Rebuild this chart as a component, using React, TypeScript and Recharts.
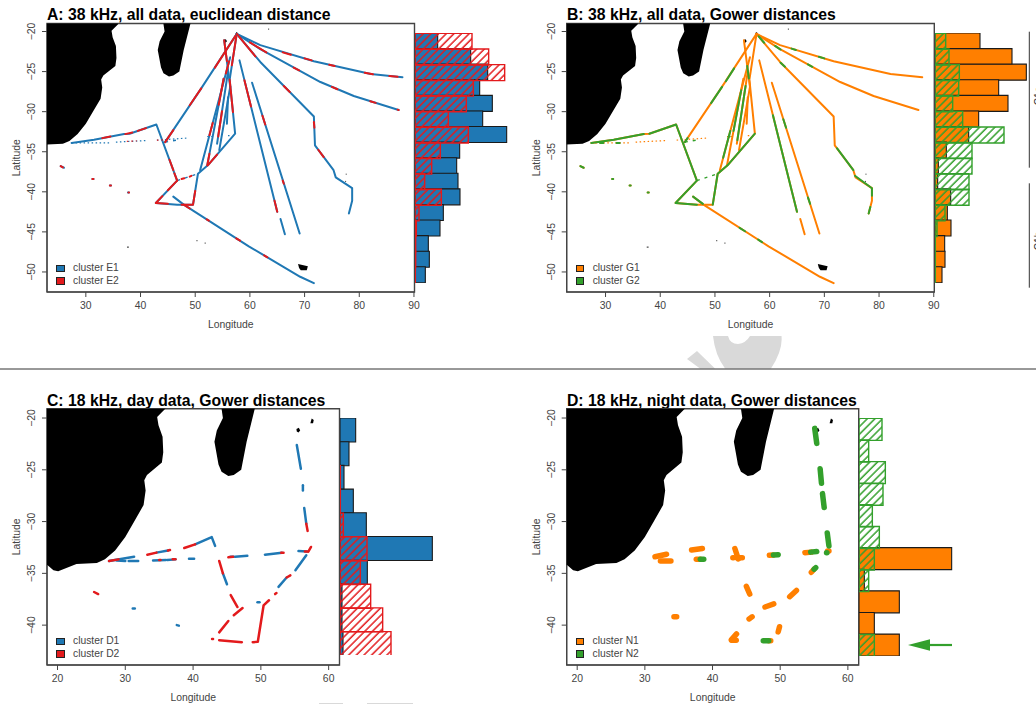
import React from 'react';
import {
  Bar,
  BarChart,
  ReferenceArea,
  Scatter,
  ScatterChart,
  XAxis,
  YAxis,
} from 'recharts';

type Pt = number[];
type Seg = Pt[];

const BLUE = '#1F78B4';
const RED = '#E31A1C';
const ORANGE = '#FF7F00';
const GREEN = '#33A02C';
const AXIS = '#444';
const FONT = '"Liberation Sans", Arial, sans-serif';

// --- land
const africa: Seg = [
  [10, -18], [36.2, -18], [35.9, -19.1], [34.7, -19.9], [34.9, -20.7], [35.5, -21.8], [35.6, -23.3],
  [35.4, -24.3], [33.2, -25.5], [32.8, -26], [33, -27], [32.7, -28.4], [31.4, -29.9], [30, -31.5],
  [28.5, -32.8], [27, -33.65], [25.8, -34], [22.8, -34.1], [20.1, -34.8], [19.4, -34.7], [18.5, -34.2], [10, -34.2],
];
const madagascar: Seg = [
  [44.2, -18], [44.2, -19.1], [44.4, -20], [43.5, -21.2], [43.15, -22.3], [43.75, -24.5], [44.2, -25.2],
  [45.2, -25.6], [46, -25.5], [47.1, -25], [47.9, -22.3], [49.1, -19.1], [49.4, -18],
];
const mauritius: Seg = [[57.3, -20.5], [57.5, -20.05], [57.8, -20.2], [57.7, -20.5]];
const reunion: Seg = [[55.25, -21.05], [55.6, -20.95], [55.8, -21.2], [55.55, -21.4], [55.3, -21.3]];
const kerguelen: Seg = [[68.8, -49.0], [70.6, -49.3], [70.4, -49.8], [69.3, -49.8], [69, -49.5]];
const specks: Seg[] = [
  [[37.6, -46.9], [37.8, -46.9]], [[50.3, -46.1], [50.35, -46.1]], [[51.8, -46.4], [51.85, -46.4]],
  [[63.4, -19.7], [63.45, -19.7]], [[77.6, -37.8], [77.62, -37.8]], [[77.5, -38.7], [77.52, -38.7]],
];

// --- 38 kHz routes
const routes38: Seg[] = [
  [[27.4, -33.9], [31.5, -33.5], [37, -32.8], [38, -32.75], [42.9, -31.6], [46.7, -38.6], [42.8, -41.4], [46.7, -41.6],
    [49.6, -41.6], [50.5, -37.75], [52.3, -36.7], [57.3, -32.75], [56.3, -26], [57.6, -20.3]],
  [[44.5, -33.8], [51.1, -27.1], [57.6, -20.3]],
  [[46, -40.6], [47.9, -41.6], [59.8, -46.8], [69.2, -50.6], [71.7, -51.4]],
  [[57.6, -20.3], [61.9, -21.7], [71.7, -23.7], [82.1, -25.3], [87.9, -25.7]],
  [[57.6, -20.3], [61.9, -22.2], [72.9, -26.3], [79, -28.05], [87.2, -29.8]],
  [[57.6, -20.3], [61.9, -23.8], [71.7, -30.6], [71.9, -34.2], [75.3, -37.3], [75.7, -38.2], [78.7, -39.55], [78.7, -41.1], [78.1, -42.7]],
  [[58.1, -23.6], [65, -42.5]],
  [[65.6, -43.4], [66.4, -45.3]],
  [[60.4, -26.4], [69.1, -45.2]],
  [[55.2, -25.9], [52.2, -36.7]],
  [[56.4, -23.2], [50.9, -37.3]],
  [[56, -25], [54, -34]],
  [[56.4, -26.9], [54.4, -34.8]],
  [[56, -28.2], [55.8, -31.5]],
  [[55.3, -21.1], [56.4, -26.9]],
  [[25.4, -36.8], [26, -37]], [[31.2, -38.4], [31.4, -38.4]], [[34.4, -39.2], [34.6, -39.2]], [[37.7, -40.1], [37.9, -40.1]],
];
const dashes38: Seg[] = [
  [[46.7, -38.6], [50.5, -37.75]],
  [[44.5, -33.8], [47, -33.5]],
];
const dotted38: Seg[] = [
  [[27.4, -33.9], [34.5, -33.9]],
  [[35.5, -33.8], [41.2, -33.6]],
  [[43, -33.55], [48.5, -33.3]],
  [[52.2, -33.1], [53.5, -33.1]],
  [[56, -33], [56.3, -33]],
];

const redOverA: Seg[] = [
  [[57.4, -20.5], [53.6, -24.5]], [[51.1, -27.1], [49, -29.2]], [[46, -32.3], [44.5, -33.8]],
  [[33, -33.3], [34.5, -33.1]], [[37.2, -32.8], [38.5, -32.6]], [[39.5, -32.4], [41, -32.05]],
  [[45.3, -36], [46, -37.3]], [[46.2, -37.7], [46.7, -38.6]], [[46.7, -38.6], [45, -39.8]], [[44, -40.54], [42.8, -41.4], [45, -41.5]],
  [[47.5, -41.6], [49.6, -41.6], [50, -39.9]], [[47.5, -38.4], [48, -38.3]], [[49, -38.1], [49.3, -38]],
  [[66, -22.6], [67.5, -22.9]], [[70, -23.35], [71.3, -23.6]], [[74.5, -24.15], [75.5, -24.3]], [[81, -25.15], [82.5, -25.33]], [[85.5, -25.55], [87, -25.65]],
  [[60, -21.35], [63, -22.6]], [[68, -24.5], [69, -24.85]], [[75, -26.9], [76, -27.2]], [[82, -28.7], [83, -28.9]], [[87, -29.75], [87.2, -29.8]],
  [[57.6, -20.3], [61, -23.1]], [[66.2, -26.8], [67.3, -27.55]], [[72.5, -34.75], [73.5, -35.66]], [[71.7, -31.3], [71.8, -32]],
  [[59, -26.07], [60.2, -29.35]], [[64.5, -41.1], [65, -42.5]], [[62.3, -30.5], [62.8, -31.6]], [[66, -38.6], [66.2, -39]],
  [[56.2, -23.7], [55.6, -25.25]], [[55.2, -25.9], [54.3, -29.14]], [[53.2, -31.4], [52.6, -32.95]], [[52.6, -35.26], [52.2, -36.7]],
  [[54.9, -29.95], [54.2, -33.1]], [[56.3, -26], [56.9, -30.05]], [[57.5, -20.7], [56.7, -24.2]], [[55.3, -21.1], [55.8, -23.7]],
  [[52.3, -36.7], [54, -35.36]], [[52.1, -43.44], [52.5, -43.6]], [[57.5, -45.8], [58.2, -46.1]], [[62.6, -47.93], [63.2, -48.17]], [[47.9, -41.6], [49, -42.08]],
  [[25.4, -36.8], [25.8, -36.95]], [[31.2, -38.4], [31.4, -38.4]], [[34.4, -39.2], [34.6, -39.2]], [[37.8, -40.1], [37.9, -40.1]],
];
const redDotsA: Seg[] = [[[37.5, -33.7], [39.3, -33.65]], [[43, -33.55], [45.4, -33.5]]];

const greenOverB: Seg[] = [
  [[27.4, -33.9], [31.5, -33.5], [37, -32.8]], [[38, -32.75], [42.9, -31.6], [46.7, -38.6], [42.8, -41.4], [46.7, -41.6]],
  [[49.6, -41.6], [50.5, -37.75], [52.3, -36.7], [57.3, -32.75]], [[46, -40.6], [47.8, -41.5]],
  [[44.5, -33.8], [45, -33.3]], [[49.3, -28.93], [51.3, -26.9]], [[52, -26.2], [53.5, -24.6]],
  [[54.8, -27.34], [53.4, -32.4]], [[55.6, -26.8], [54.1, -33.55]], [[52.8, -32.4], [51.5, -35.76]], [[55.9, -24.3], [56.2, -25.85]],
  [[60.6, -30.45], [64, -39.76], [65, -42.5]], [[72.3, -34.56], [75.3, -37.3]], [[75.6, -38], [78.7, -39.55], [78.7, -40.5]], [[78.4, -41.9], [78.1, -42.7]],
  [[62.5, -30.94], [63, -32]], [[67, -40.7], [67.4, -41.5]], [[58, -20.6], [59, -21.4]], [[64, -22.13], [64.8, -22.3]], [[69, -23.15], [70, -23.35]],
  [[61, -21.8], [62, -22.25]], [[67, -24.1], [67.8, -24.4]], [[62, -23.9], [62.8, -24.4]], [[54.5, -44.49], [55.5, -44.92]], [[57.9, -45.97], [58.6, -46.28]],
  [[25.4, -36.8], [26, -37]], [[31.2, -38.4], [31.4, -38.4]], [[34.4, -39.2], [34.6, -39.2]], [[37.7, -40.1], [37.9, -40.1]],
  [[52.5, -33.1], [52.7, -33.1]], [[29, -33.9], [29.6, -33.9]], [[32, -33.9], [32.6, -33.9]],
];

// --- 18 kHz day
const blueDay: Seg[] = [
  [[55.3, -22.6], [55.9, -24.9]], [[56.2, -26.5], [56.2, -27]], [[56.4, -28.7], [56.7, -30.2]],
  [[27.6, -33.8], [31.3, -33.4]], [[34.6, -33], [36.3, -32.8]], [[40.3, -32.2], [42.75, -31.5], [43.25, -32.35]],
  [[34.1, -33.75], [36, -33.7]], [[36.2, -33.7], [37.4, -33.65]], [[39.4, -33.6], [40.15, -33.6]],
  [[46.2, -33.4], [48, -33.3]], [[50.6, -33.2], [53.1, -33]], [[55.55, -32.85], [56.8, -32.9]],
  [[44.4, -35], [45, -36.05]], [[52.6, -36.3], [53.8, -35.4]], [[55.1, -34.7], [56.7, -33.25]],
  [[49.5, -37.8], [49.8, -37.8]], [[31.1, -38.4], [31.4, -38.4]], [[37.6, -40], [37.9, -40.05]],
  [[30.5, -33.8], [31.9, -33.8]], [[28.7, -33.75], [30, -33.8]], [[45.5, -33.4], [46, -33.4]],
];
const redDay: Seg[] = [
  [[56.7, -30.2], [56.9, -30.9]], [[57, -32.9], [57.4, -32.45]], [[27.6, -33.8], [29, -33.65]],
  [[33.25, -33.2], [34.6, -33]], [[36.3, -32.8], [36.6, -32.75]], [[38.7, -32.55], [40.3, -32.2]],
  [[45.2, -33.45], [45.9, -33.4]], [[43.85, -33.8], [44.4, -35]], [[45.55, -37.1], [46.55, -38.25]], [[47.3, -38.35], [46, -39.05]],
  [[45.2, -39.6], [43.85, -40.7]], [[42.8, -41.35], [42.95, -41.35]], [[43.85, -41.45], [47.2, -41.65]], [[48.8, -41.65], [49.55, -41.6], [50.4, -38.1], [51.2, -37.6]],
  [[52.1, -37], [52.3, -36.9]], [[53.8, -35.4], [54.35, -35.2]], [[25.4, -36.8], [26, -37]], [[53, -33], [53.35, -33]], [[35, -33.7], [35.2, -33.7]],
  [[37, -33.65], [37.4, -33.65]], [[56.5, -32.9], [56.8, -32.9]],
];

// --- 18 kHz night
const orangeNight: Seg[] = [
  [[53.65, -33], [54.6, -32.95]], [[57, -32.85], [57.2, -32.85]], [[48.4, -33.25], [49, -33.22]], [[37.6, -33.65], [38.2, -33.65]],
  [[36.9, -32.75], [38.5, -32.6]], [[31.5, -33.4], [33.2, -33.15]], [[32.3, -33.8], [33.85, -33.8]],
  [[43.3, -32.6], [43.8, -33.6]], [[43, -33.5], [43.1, -33.5]], [[43.55, -33.5], [44.4, -33.5]], [[54.6, -34.9], [55, -34.6]],
  [[45, -36.25], [45.5, -37]], [[51.4, -37.25], [52.4, -36.65]], [[47.75, -38.25], [49.05, -37.95]], [[34.3, -39.2], [34.7, -39.2]],
  [[45.4, -39.4], [45.85, -39.2]], [[49.7, -40.65], [49.9, -40.15]], [[42.8, -41.4], [43.55, -40.85]], [[42.8, -41.45], [43.5, -41.45]], [[48.3, -41.5], [48.6, -41.5]],
];
const greenNight: Seg[] = [
  [[55.1, -21], [55.4, -22.45]], [[55.9, -24.9], [56.1, -26.3]], [[56.25, -27.3], [56.5, -28.65]], [[56.95, -31.1], [57.2, -32.35]],
  [[56.85, -33], [56.9, -33]], [[54.5, -32.95], [55.4, -32.9]], [[49, -33.22], [49.7, -33.2]], [[38.2, -33.65], [38.7, -33.65]],
  [[55, -34.6], [55.25, -34.45]], [[47.5, -41.5], [48.3, -41.5]],
];

// --- side histograms, bar lengths as read
const binsAB = ['-20', '-22', '-24', '-26', '-28', '-30', '-32', '-34', '-36', '-38', '-40', '-42', '-44', '-46', '-48', '-50'];
const histE1 = [68, 167, 218, 194, 232, 203, 275, 134, 125, 129, 135, 85, 75, 40, 43, 31];
const histE2 = [171, 221, 269, 175, 154, 100, 160, 76, 50, 29, 79, 12, 4, 2, 2, 1];
const histG1Solid = [135, 231, 274, 191, 219, 131, 101, 34, 10, 8, 47, 37, 48, 29, 30, 21];
const histG2 = [32, 42, 73, 71, 53, 83, 207, 111, 111, 102, 102, 30, 6, 1, 1, 1];
const binsC = ['-20', '-22', '-24', '-26', '-28', '-30', '-32', '-34', '-36', '-38'];
const histD1 = [47, 27, 12, 40, 79, 277, 82, 6, 6, 9];
const histD2 = [0, 0, 1, 1, 10, 81, 61, 92, 128, 153];
const binsD = ['-20', '-22', '-24', '-26', '-28', '-30', '-32', '-34', '-36', '-38', '-40'];
const histN1 = [0, 0, 0, 0, 0, 0, 278, 16, 121, 46, 121];
const histN2 = [69, 29, 79, 72, 40, 61, 46, 29, 0, 0, 46];

const ticks38X = [30, 40, 50, 60, 70, 80, 90];
const ticks38Y = [-50, -45, -40, -35, -30, -25, -20];
const ticks18X = [20, 30, 40, 50, 60];
const ticks18Y = [-40, -35, -30, -25, -20];
const domain38X = [22.9, 90.1];
const domain38Y = [-52.5, -19];
const domain18X = [18.45, 61.6];
const domain18Y = [-43.85, -19.1];

const toPoints = (seg: Seg) => seg.map(([x, y]) => ({ x, y }));
const noDot = () => <g />;
const fmtMinus = (v: number) => String(v).replace('-', '\u2212');

const renderYTick = (props: any) => {
  const { x, y, payload } = props;
  return (
    <text
      x={x - 5}
      y={y}
      transform={`rotate(-90 ${x - 5} ${y})`}
      textAnchor="middle"
      fontSize={10.4}
      fontFamily={FONT}
      fill={AXIS}
    >
      {fmtMinus(payload.value)}
    </text>
  );
};

const polygon = (props: any) => {
  const d = props.points.map((p: any, i: number) => `${i ? 'L' : 'M'}${p.x},${p.y}`).join(' ') + 'Z';
  return <path d={d} fill="#000" stroke="none" />;
};

const drawLand = () =>
  [africa, madagascar, mauritius, reunion, kerguelen].map((seg, i) => (
    <Scatter key={`land${i}`} data={toPoints(seg)} line={polygon} shape={noDot} isAnimationActive={false} />
  ));

const drawSegs = (segs: Seg[], name: string, stroke: string, strokeWidth: number, dash?: string) =>
  segs.map((seg, i) => (
    <Scatter
      key={`${name}${i}`}
      data={toPoints(seg)}
      line={{ stroke, strokeWidth, strokeDasharray: dash, strokeLinecap: dash ? 'butt' : 'round', strokeLinejoin: 'round' } as any}
      shape={noDot}
      isAnimationActive={false}
    />
  ));

interface MapPanelProps {
  left: number;
  top: number;
  width: number;
  height: number;
  boxLeft: number;
  boxTop: number;
  boxRight: number;
  axisHeight: number;
  domainX: number[];
  domainY: number[];
  ticksX: number[];
  ticksY: number[];
  children: React.ReactNode;
}

const MapPanel: React.FC<MapPanelProps> = (p) => (
  <div style={{ position: 'absolute', left: p.left, top: p.top }}>
    <ScatterChart
      width={p.width}
      height={p.height}
      margin={{ top: p.boxTop, left: 0, right: p.boxRight, bottom: 0 }}
    >
      <XAxis
        type="number"
        dataKey="x"
        domain={p.domainX}
        ticks={p.ticksX}
        interval={0}
        allowDataOverflow
        height={p.axisHeight}
        tickSize={5}
        tickMargin={5}
        stroke={AXIS}
        tick={{ fontSize: 10.4, fontFamily: FONT, fill: AXIS }}
        label={{ value: 'Longitude', position: 'insideBottom', offset: p.axisHeight - 36, fontSize: 10.4, fontFamily: FONT, fill: AXIS }}
      />
      <YAxis
        type="number"
        dataKey="y"
        domain={p.domainY}
        ticks={p.ticksY}
        interval={0}
        allowDataOverflow
        width={p.boxLeft}
        tickSize={5}
        tickMargin={2}
        stroke={AXIS}
        tick={renderYTick}
        label={{ value: 'Latitude', angle: -90, position: 'left', offset: 0, dx: 16, fontSize: 10.4, fontFamily: FONT, fill: AXIS, style: { textAnchor: 'middle' } }}
      />
      {p.children}
      <ReferenceArea
        x1={p.domainX[0]}
        x2={p.domainX[1]}
        y1={p.domainY[0]}
        y2={p.domainY[1]}
        fill="none"
        stroke={AXIS}
        strokeWidth={1.4}
      />
    </ScatterChart>
  </div>
);

interface HistProps {
  left: number;
  top: number;
  width: number;
  height: number;
  bins: string[];
  solid: number[];
  hatched: number[];
  solidColor: string;
  hatchColor: string;
  id: string;
}

const SideHist: React.FC<HistProps> = (p) => {
  const data = p.bins.map((bin, i) => ({ bin, solid: p.solid[i], hatched: p.hatched[i] }));
  return (
    <div style={{ position: 'absolute', left: p.left, top: p.top }}>
      <BarChart
        layout="vertical"
        width={p.width}
        height={p.height}
        data={data}
        margin={{ top: 0, left: 0, right: 0, bottom: 0 }}
        barCategoryGap={0}
        barGap={-p.height / p.bins.length}
      >
        <defs>
          <pattern id={p.id} patternUnits="userSpaceOnUse" width={5.4} height={5.4} patternTransform="rotate(45)">
            <line x1={1} y1={0} x2={1} y2={5.4} stroke={p.hatchColor} strokeWidth={1.5} />
          </pattern>
        </defs>
        <XAxis type="number" hide domain={[0, p.width * 3]} />
        <YAxis type="category" hide dataKey="bin" />
        <Bar dataKey="solid" fill={p.solidColor} stroke="#1a1a1a" strokeWidth={1.1} isAnimationActive={false} />
        <Bar dataKey="hatched" fill={`url(#${p.id})`} stroke={p.hatchColor} strokeWidth={1.4} isAnimationActive={false} />
      </BarChart>
    </div>
  );
};

const Title: React.FC<{ x: number; y: number; text: string }> = ({ x, y, text }) => (
  <div
    style={{
      position: 'absolute',
      left: x,
      top: y,
      fontFamily: FONT,
      fontWeight: 700,
      fontSize: 15.75,
      lineHeight: '18px',
      whiteSpace: 'nowrap',
      color: '#000',
    }}
  >
    {text}
  </div>
);

const Key: React.FC<{ x: number; y: number; color: string; text: string }> = ({ x, y, color, text }) => (
  <div style={{ position: 'absolute', left: x, top: y, height: 12, fontFamily: FONT, fontSize: 10.3, lineHeight: '12px', color: AXIS, whiteSpace: 'nowrap' }}>
    <span style={{ position: 'absolute', left: 0, top: 2.5, width: 6.5, height: 5.5, background: color, border: '1px solid #222' }} />
    <span style={{ position: 'absolute', left: 17, top: 0 }}>{text}</span>
  </div>
);

export default function App() {
  return (
    <div style={{ position: 'absolute', left: 0, top: 0, width: 1036, height: 704, overflow: 'hidden', background: '#fff' }}>
      <svg width={1036} height={704} style={{ position: 'absolute', left: 0, top: 0 }}>
        <path d="M713,336 L728,336 Q730,344 738,344 Q746,343 750,336 L781.5,336 Q783,350 771,368.5 L725,368.5 Q715,355 713,336 Z" fill="#d9d9d9" />
        <polygon points="687,359 697,351 715,368.5 700,368.5" fill="#d9d9d9" />
        <rect x={319} y={703} width={24} height={1} fill="#d9d9d9" />
        <rect x={367} y={703} width={46} height={1} fill="#d9d9d9" />
      </svg>

      <Title x={47} y={6} text="A: 38 kHz, all data, euclidean distance" />
      <MapPanel left={0} top={0} width={420} height={340} boxLeft={47} boxTop={23.5} boxRight={5.5} axisHeight={48}
        domainX={domain38X} domainY={domain38Y} ticksX={ticks38X} ticksY={ticks38Y}>
        {drawLand()}
        {drawSegs(specks, 'sp', '#222', 1)}
        {drawSegs(routes38, 'r', BLUE, 2)}
        {drawSegs(dashes38, 'd', BLUE, 1.4, '3 5')}
        {drawSegs(dotted38, 'o', BLUE, 1.2, '1.5 2.5')}
        {drawSegs(redOverA, 'e', RED, 2)}
        {drawSegs(redDotsA, 'f', RED, 1.2, '1.5 3')}
      </MapPanel>
      <SideHist left={415} top={33.3} width={100} height={249.4} bins={binsAB} solid={histE1} hatched={histE2} solidColor={BLUE} hatchColor={RED} id="hatchE" />
      <Key x={56} y={262} color={BLUE} text="cluster E1" />
      <Key x={56} y={274.5} color={RED} text="cluster E2" />

      <Title x={567} y={6} text="B: 38 kHz, all data, Gower distances" />
      <MapPanel left={520} top={0} width={420} height={340} boxLeft={46.7} boxTop={23.5} boxRight={5.7} axisHeight={48}
        domainX={domain38X} domainY={domain38Y} ticksX={ticks38X} ticksY={ticks38Y}>
        {drawLand()}
        {drawSegs(specks, 'sp', '#222', 1)}
        {drawSegs(routes38, 'r', ORANGE, 2)}
        {drawSegs(dashes38, 'd', GREEN, 1.4, '3 5')}
        {drawSegs(dotted38, 'o', ORANGE, 1.2, '1.5 2.5')}
        {drawSegs(greenOverB, 'g', GREEN, 2)}
      </MapPanel>
      <SideHist left={935} top={33.3} width={100} height={249.4} bins={binsAB} solid={histG1Solid} hatched={histG2} solidColor={ORANGE} hatchColor={GREEN} id="hatchG" />
      <Key x={575.7} y={262} color={ORANGE} text="cluster G1" />
      <Key x={575.7} y={274.5} color={GREEN} text="cluster G2" />

      <Title x={47} y={391.5} text="C: 18 kHz, day data, Gower distances" />
      <MapPanel left={0} top={380} width={345} height={324} boxLeft={47} boxTop={28.7} boxRight={5.5} axisHeight={39}
        domainX={domain18X} domainY={domain18Y} ticksX={ticks18X} ticksY={ticks18Y}>
        {drawLand()}
        {drawSegs(blueDay, 'b', BLUE, 2.5)}
        {drawSegs(redDay, 'e', RED, 2.5)}
      </MapPanel>
      <SideHist left={339.7} top={418} width={96} height={237} bins={binsC} solid={histD1} hatched={histD2} solidColor={BLUE} hatchColor={RED} id="hatchD" />
      <Key x={56} y={635} color={BLUE} text="cluster D1" />
      <Key x={56} y={647.5} color={RED} text="cluster D2" />

      <Title x={567} y={391.5} text="D: 18 kHz, night data, Gower distances" />
      <MapPanel left={520} top={380} width={345} height={324} boxLeft={46.7} boxTop={28.7} boxRight={6.3} axisHeight={39}
        domainX={domain18X} domainY={domain18Y} ticksX={ticks18X} ticksY={ticks18Y}>
        {drawLand()}
        {drawSegs(orangeNight, 'o', ORANGE, 5.5)}
        {drawSegs(greenNight, 'g', GREEN, 5.5)}
      </MapPanel>
      <SideHist left={859.3} top={418} width={96} height={237.7} bins={binsD} solid={histN1} hatched={histN2} solidColor={ORANGE} hatchColor={GREEN} id="hatchN" />
      <Key x={575.5} y={635} color={ORANGE} text="cluster N1" />
      <Key x={575.5} y={647.5} color={GREEN} text="cluster N2" />

      <svg width={1036} height={704} style={{ position: 'absolute', left: 0, top: 0, pointerEvents: 'none' }}>
        <line x1={0} y1={369} x2={1036} y2={369} stroke="#333" strokeWidth={1} />
        <line x1={1029.3} y1={31.7} x2={1029.3} y2={167.7} stroke="#333" strokeWidth={1} />
        <line x1={1029.3} y1={183.3} x2={1029.3} y2={287.7} stroke="#333" strokeWidth={1} />
        <text transform="rotate(-90 1042 96)" x={1042} y={96} textAnchor="middle" fontSize={10.4} fontFamily={FONT} fill="#333">C1a</text>
        <text transform="rotate(-90 1042 241)" x={1042} y={241} textAnchor="middle" fontSize={10.4} fontFamily={FONT} fill="#333">C1b</text>
        <line x1={925} y1={645} x2={952} y2={645} stroke={GREEN} strokeWidth={2.2} />
        <polygon points="908,645 930,639.3 930,650.7" fill={GREEN} />
      </svg>
    </div>
  );
}
